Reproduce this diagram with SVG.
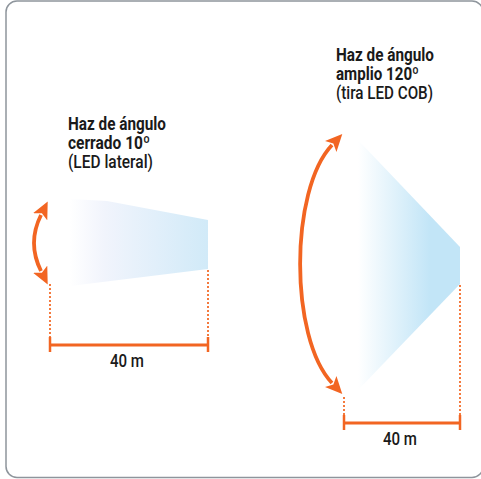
<svg xmlns="http://www.w3.org/2000/svg" width="481" height="479" viewBox="0 0 481 479">
  <style>
    .t { font-family: Roboto, "Liberation Sans", Arial, sans-serif; font-size: 18px; font-weight: 500; fill: #1a1a1a; }
    .b { font-weight: bold; }
    .arc { fill: none; stroke: #f26522; stroke-width: 3.8; }
    .dim { fill: none; stroke: #f26522; stroke-width: 3; }
    .tick { fill: none; stroke: #f26522; stroke-width: 2.5; }
    .dot { fill: none; stroke: #f47a3e; stroke-width: 2; stroke-dasharray: 2 2; }
  </style>
  <defs>
    <linearGradient id="gL" x1="70" y1="0" x2="208" y2="0" gradientUnits="userSpaceOnUse">
      <stop offset="0" stop-color="#ffffff"/>
      <stop offset="0.25" stop-color="#f1f4fc"/>
      <stop offset="1" stop-color="#d1eaf8"/>
    </linearGradient>
    <linearGradient id="gR" x1="358" y1="0" x2="430" y2="0" gradientUnits="userSpaceOnUse">
      <stop offset="0" stop-color="#ffffff"/>
      <stop offset="1" stop-color="#c2e5f7"/>
    </linearGradient>
    <marker id="ah" markerUnits="userSpaceOnUse" markerWidth="18" markerHeight="16" viewBox="0 -8 18 16" refX="2" refY="0" orient="auto-start-reverse">
      <path d="M0,-8 L17,0 L0,8 L4,0 z" fill="#f26522"/>
    </marker>
  </defs>

  <rect x="6" y="1" width="477" height="476.5" rx="11" fill="#ffffff" stroke="#8e959c" stroke-width="1.5"/>

  <g id="narrow-beam">
    <path d="M70,199 L107,201 L208,220 L208,269 L70,286 z" fill="url(#gL)"/>
    <text class="t b" x="68" y="130" textLength="98" lengthAdjust="spacingAndGlyphs">Haz de ángulo</text>
    <text class="t b" x="68" y="149" textLength="82" lengthAdjust="spacingAndGlyphs">cerrado 10º</text>
    <text class="t" x="68" y="168" textLength="85" lengthAdjust="spacingAndGlyphs">(LED lateral)</text>
    <text class="t" x="110" y="367" textLength="34" lengthAdjust="spacingAndGlyphs">40 m</text>
  </g>

  <g id="wide-beam">
    <path d="M358,140 L460,247 L460,284 L358,390 z" fill="url(#gR)"/>
    <text class="t b" x="336" y="61" textLength="98" lengthAdjust="spacingAndGlyphs">Haz de ángulo</text>
    <text class="t b" x="336" y="80" textLength="83" lengthAdjust="spacingAndGlyphs">amplio 120º</text>
    <text class="t" x="336" y="99" textLength="97" lengthAdjust="spacingAndGlyphs">(tira LED COB)</text>
    <text class="t" x="383" y="445" textLength="34" lengthAdjust="spacingAndGlyphs">40 m</text>
  </g>

  <g id="connectors">
    <path class="arc" d="M41,271 Q27,243 41,215" marker-start="url(#ah)" marker-end="url(#ah)"/>
    <path class="arc" d="M332,383 C289.5,338 289.5,190 332,145" marker-start="url(#ah)" marker-end="url(#ah)"/>

    <line class="dot" x1="50" y1="284" x2="50" y2="340"/>
    <line class="dot" x1="208" y1="270" x2="208" y2="340"/>
    <line class="dim" x1="50" y1="345" x2="208" y2="345"/>
    <line class="tick" x1="50" y1="337" x2="50" y2="352"/>
    <line class="tick" x1="208" y1="337" x2="208" y2="352"/>

    <line class="dot" x1="344" y1="397" x2="344" y2="418"/>
    <line class="dot" x1="460" y1="285" x2="460" y2="418"/>
    <line class="dim" x1="344" y1="423" x2="460" y2="423"/>
    <line class="tick" x1="344" y1="415" x2="344" y2="430"/>
    <line class="tick" x1="460" y1="415" x2="460" y2="430"/>
  </g>
</svg>
